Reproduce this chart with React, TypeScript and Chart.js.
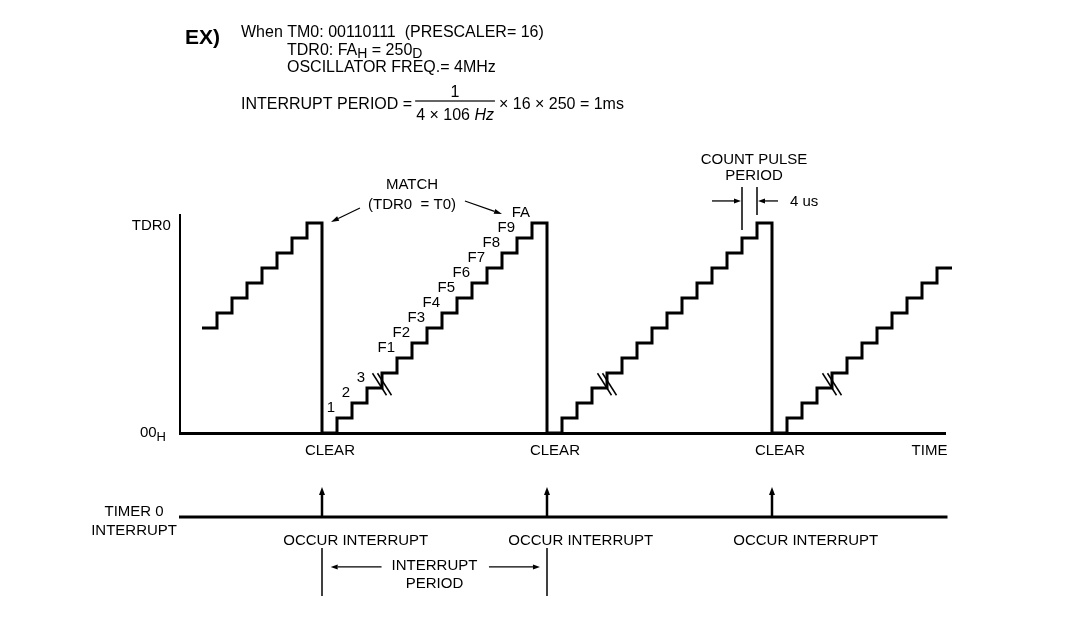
import React, { useEffect, useRef } from 'react';
import { Chart, registerables } from 'chart.js';

Chart.register(...registerables);

// x = count-pulse index (one unit = one count pulse), y = timer count step
const pulseIndex = [
  -8, -7, -6, -5, -4, -3, -2, -1,
  0, 1, 2, 3, 4, 5, 6, 7, 8, 9, 10, 11, 12, 13, 14,
  15, 16, 17, 18, 19, 20, 21, 22, 23, 24, 25, 26, 27, 28, 29,
  30, 31, 32, 33, 34, 35, 36, 37, 38, 39, 40, 41,
  42,
];
const counterLevel = [
  7, 8, 9, 10, 11, 12, 13, 14,
  0, 1, 2, 3, 4, 5, 6, 7, 8, 9, 10, 11, 12, 13, 14,
  0, 1, 2, 3, 4, 5, 6, 7, 8, 9, 10, 11, 12, 13, 14,
  0, 1, 2, 3, 4, 5, 6, 7, 8, 9, 10, 11,
  11,
];
const clearPoints = [0, 15, 30];
const breakPoints = [4, 19, 34];
const stepLabels = ['1', '2', '3', 'F1', 'F2', 'F3', 'F4', 'F5', 'F6', 'F7', 'F8', 'F9', 'FA'];
const stepLabelLevels = [1, 2, 3, 5, 6, 7, 8, 9, 10, 11, 12, 13, 14];
const yTickValues = [0, 14];
const yTickLabels = ['00', 'TDR0'];
const yTickSubs = ['H', ''];
const countPulseMarks = [28, 29];

const FONT = '"Liberation Sans", Arial, Helvetica, sans-serif';

type Part = { t: string; sub?: boolean; italic?: boolean; bold?: boolean };

function fontFor(p: Part, size: number) {
  const s = p.sub ? Math.round(size * 0.85) : size;
  return `${p.italic ? 'italic ' : ''}${p.bold ? 'bold ' : ''}${s}px ${FONT}`;
}
function richWidth(ctx: CanvasRenderingContext2D, parts: Part[], size: number) {
  let w = 0;
  for (const p of parts) {
    ctx.font = fontFor(p, size);
    w += ctx.measureText(p.t).width;
  }
  return w;
}
function drawRich(
  ctx: CanvasRenderingContext2D,
  parts: Part[],
  x: number,
  midY: number,
  size: number,
  align: 'left' | 'center' | 'right'
) {
  const w = richWidth(ctx, parts, size);
  let cx = align === 'left' ? x : align === 'right' ? x - w : x - w / 2;
  const base = midY + size * 0.36;
  ctx.textAlign = 'left';
  ctx.textBaseline = 'alphabetic';
  for (const p of parts) {
    ctx.font = fontFor(p, size);
    ctx.fillText(p.t, cx, p.sub ? base + size * 0.22 : base);
    cx += ctx.measureText(p.t).width;
  }
  return w;
}
function arrow(
  ctx: CanvasRenderingContext2D,
  x1: number, y1: number, x2: number, y2: number,
  lw: number, hl: number, hw: number
) {
  const a = Math.atan2(y2 - y1, x2 - x1);
  const bx = x2 - hl * Math.cos(a);
  const by = y2 - hl * Math.sin(a);
  ctx.lineWidth = lw;
  ctx.beginPath();
  ctx.moveTo(x1, y1);
  ctx.lineTo(bx, by);
  ctx.stroke();
  ctx.beginPath();
  ctx.moveTo(x2, y2);
  ctx.lineTo(bx + (hw / 2) * Math.sin(a), by - (hw / 2) * Math.cos(a));
  ctx.lineTo(bx - (hw / 2) * Math.sin(a), by + (hw / 2) * Math.cos(a));
  ctx.closePath();
  ctx.fill();
}
function vline(ctx: CanvasRenderingContext2D, x: number, y1: number, y2: number, lw: number) {
  ctx.lineWidth = lw;
  ctx.beginPath();
  ctx.moveTo(x, y1);
  ctx.lineTo(x, y2);
  ctx.stroke();
}

const annotationPlugin = {
  id: 'timerAnnotations',
  afterDraw(chart: any) {
    const ctx: CanvasRenderingContext2D = chart.ctx;
    const xs = chart.scales.x;
    const ys = chart.scales.y;
    const px = (v: number) => xs.getPixelForValue(v);
    const py = (v: number) => ys.getPixelForValue(v);
    const S = 15;
    const H = 16;
    ctx.save();
    ctx.fillStyle = '#000';
    ctx.strokeStyle = '#000';
    ctx.lineCap = 'butt';

    // ---- header ----
    drawRich(ctx, [{ t: 'EX)', bold: true }], 185, 36, 21, 'left');
    drawRich(ctx, [{ t: 'When TM0: 00110111  (PRESCALER= 16)' }], 241, 31, H, 'left');
    drawRich(ctx, [{ t: 'TDR0: FA' }, { t: 'H', sub: true }, { t: ' = 250' }, { t: 'D', sub: true }], 287, 49, H, 'left');
    drawRich(ctx, [{ t: 'OSCILLATOR FREQ.= 4MHz' }], 287, 66, H, 'left');

    // formula
    const fy = 103;
    let fx = 241;
    fx += drawRich(ctx, [{ t: 'INTERRUPT PERIOD =' }], fx, fy, H, 'left') + 3;
    const den: Part[] = [{ t: '4 × 10' }, { t: '6' }, { t: ' ' }, { t: 'Hz', italic: true }];
    const barW = richWidth(ctx, den, H) + 2;
    ctx.fillRect(fx, fy - 2.6, barW, 1.2);
    drawRich(ctx, [{ t: '1' }], fx + barW / 2, fy - 12, H, 'center');
    drawRich(ctx, den, fx + barW / 2, fy + 11, H, 'center');
    fx += barW + 4;
    drawRich(ctx, [{ t: '× 16 × 250 = 1ms' }], fx, fy, H, 'left');

    // ---- y axis labels ----
    yTickValues.forEach((v, i) => {
      const parts: Part[] = [{ t: yTickLabels[i] }];
      if (yTickSubs[i]) parts.push({ t: yTickSubs[i], sub: true });
      drawRich(ctx, parts, px(i === 0 ? -10.4 : -10.07), py(v) + (i === 0 ? -1 : 2), S, 'right');
    });

    // ---- step labels on the second ramp ----
    stepLabels.forEach((lab, i) => {
      const lv = stepLabelLevels[i];
      drawRich(ctx, [{ t: lab }], px(clearPoints[0] + lv) - 2, py(lv) - 11, S, 'right');
    });

    // ---- omission marks ----
    ctx.lineWidth = 1.5;
    breakPoints.forEach((b) => {
      const cx = px(b);
      const cy = py(3.25);
      [-2.5, 2.5].forEach((d) => {
        ctx.beginPath();
        ctx.moveTo(cx + d - 7, cy - 11);
        ctx.lineTo(cx + d + 7, cy + 11);
        ctx.stroke();
      });
    });

    // ---- MATCH ----
    drawRich(ctx, [{ t: 'MATCH' }], px(6), py(16.6), S, 'center');
    drawRich(ctx, [{ t: '(TDR0  = T0)' }], px(6), py(15.27), S, 'center');
    arrow(ctx, px(2.53), py(15), px(0.6), py(14.07), 1.2, 8, 5);
    arrow(ctx, px(9.53), py(15.47), px(12), py(14.6), 1.2, 8, 5);

    // ---- COUNT PULSE PERIOD ----
    countPulseMarks.forEach((m) => {
      const idx = pulseIndex.indexOf(m);
      vline(ctx, px(m), py(counterLevel[idx] + 0.53), py(16.4), 1.5);
    });
    arrow(ctx, px(26), py(15.47), px(countPulseMarks[0]) - 1, py(15.47), 1.3, 7, 5);
    arrow(ctx, px(30.4), py(15.47), px(countPulseMarks[1]) + 1, py(15.47), 1.3, 7, 5);
    drawRich(ctx, [{ t: '4 us' }], px(31.2), py(15.47), S, 'left');
    drawRich(ctx, [{ t: 'COUNT PULSE' }], px(28.8), py(18.27), S, 'center');
    drawRich(ctx, [{ t: 'PERIOD' }], px(28.8), py(17.2), S, 'center');

    // ---- CLEAR / TIME ----
    clearPoints.forEach((c) => drawRich(ctx, [{ t: 'CLEAR' }], px(c + 0.53), py(-1.13), S, 'center'));
    drawRich(ctx, [{ t: 'TIME' }], px(40.5), py(-1.13), S, 'center');

    // ---- timer 0 interrupt track ----
    const trackY = py(-5.6);
    ctx.lineWidth = 3;
    ctx.beginPath();
    ctx.moveTo(chart.chartArea.left - 1, trackY);
    ctx.lineTo(px(41.7), trackY);
    ctx.stroke();
    drawRich(ctx, [{ t: 'TIMER 0' }], px(-12.53), py(-5.2), S, 'center');
    drawRich(ctx, [{ t: 'INTERRUPT' }], px(-12.53), py(-6.47), S, 'center');
    clearPoints.forEach((c) => {
      arrow(ctx, px(c), trackY, px(c), py(-3.6), 2.5, 8, 6);
      drawRich(ctx, [{ t: 'OCCUR INTERRUPT' }], px(c + 2.25), py(-7.1), S, 'center');
    });

    // ---- interrupt period ----
    vline(ctx, px(clearPoints[0]), py(-7.67), py(-10.87), 1.5);
    vline(ctx, px(clearPoints[1]), py(-7.67), py(-10.87), 1.5);
    arrow(ctx, px(3.97), py(-8.93), px(clearPoints[0] + 0.58), py(-8.93), 1.3, 7, 5);
    arrow(ctx, px(11.13), py(-8.93), px(clearPoints[1] - 0.47), py(-8.93), 1.3, 7, 5);
    drawRich(ctx, [{ t: 'INTERRUPT' }], px(7.5), py(-8.8), S, 'center');
    drawRich(ctx, [{ t: 'PERIOD' }], px(7.5), py(-10.0), S, 'center');

    ctx.restore();
  },
};

export default function App() {
  const ref = useRef<HTMLCanvasElement>(null);
  useEffect(() => {
    const chart = new Chart(ref.current as HTMLCanvasElement, {
      type: 'line',
      data: {
        datasets: [
          {
            data: pulseIndex.map((x, i) => ({ x, y: counterLevel[i] })),
            stepped: true,
            borderColor: '#000',
            borderWidth: 3,
            pointRadius: 0,
            fill: false,
            clip: false as any,
            borderJoinStyle: 'miter',
            borderCapStyle: 'butt',
          } as any,
        ],
      },
      options: {
        animation: false,
        responsive: false,
        events: [],
        layout: { padding: { left: 180, top: 215, right: 130, bottom: 209 } },
        plugins: { legend: { display: false }, tooltip: { enabled: false } },
        scales: {
          x: {
            type: 'linear',
            min: -9.4667,
            max: 41.5333,
            grid: { display: false, drawTicks: false },
            ticks: { display: false },
            border: { display: true, color: '#000', width: 3 },
          },
          y: {
            type: 'linear',
            min: 0,
            max: 14.5333,
            grid: { display: false, drawTicks: false },
            ticks: { display: false },
            border: { display: true, color: '#000', width: 2 },
          },
        },
      } as any,
      plugins: [annotationPlugin],
    });
    return () => chart.destroy();
  }, []);
  return (
    <div style={{ position: 'absolute', left: 0, top: 0, width: 1075, height: 642, background: '#fff' }}>
      <canvas ref={ref} width={1075} height={642} style={{ display: 'block' }} />
    </div>
  );
}
